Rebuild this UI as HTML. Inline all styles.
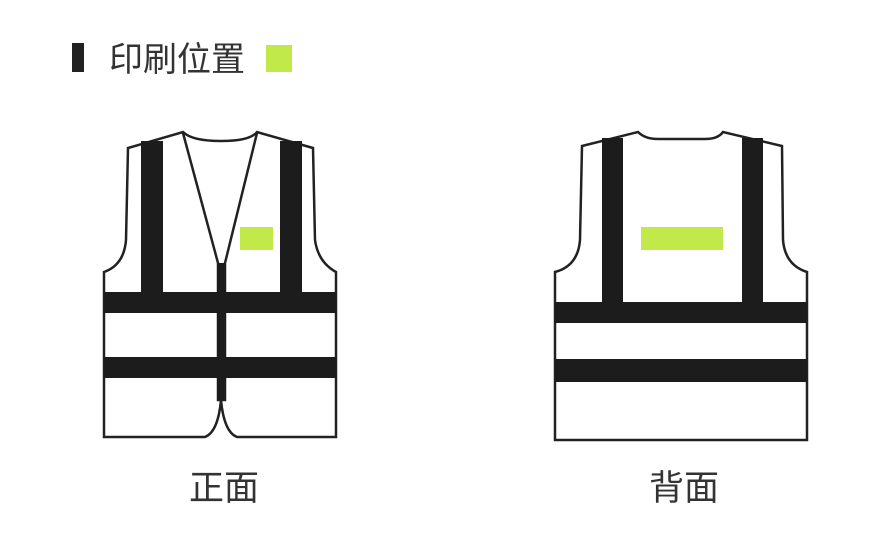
<!DOCTYPE html>
<html><head><meta charset="utf-8"><style>
html,body{margin:0;padding:0;background:#fff;width:891px;height:557px;overflow:hidden}
</style></head><body>
<svg width="891" height="557" viewBox="0 0 891 557" xmlns="http://www.w3.org/2000/svg">
<rect x="72" y="43" width="12" height="29" fill="#222"/>
<text x="109" y="71" font-family="Liberation Sans, Noto Sans CJK SC, sans-serif" font-size="34" fill="#333">印刷位置</text>
<rect x="266" y="45" width="26" height="27" fill="#c1e94a"/>

<!-- Front vest -->
<g stroke="#222" fill="#fff">
<path d="M104,272 L104,437 L205,437 Q218,432 221,400 Q224,432 237,437 L336,437 L336,272 Q318,262 315,240 L313,148 L257,132 Q250,141 221,141 Q192,141 183,132 L128,148 L126,240 Q124,265 104,272 Z" stroke-width="2.5"/>
<path d="M183,133 L218,263 L218,400 L225,400 L225,263 L257,133" stroke-width="2.5" fill="none"/>
</g>
<g fill="#1c1c1c">
<rect x="141" y="141" width="22" height="155"/>
<rect x="280" y="141" width="22" height="155"/>
<rect x="104" y="292" width="232" height="21"/>
<rect x="104" y="357" width="232" height="21"/>
<rect x="217" y="263" width="9" height="137"/>
</g>
<rect x="240" y="227" width="33" height="23" fill="#c1e94a"/>

<!-- Back vest -->
<g stroke="#222" fill="#fff" stroke-width="2.5">
<path d="M555,272 L555,440 L807,440 L807,272 Q785,265 783,240 L782,146 L723,132 Q718,139 705,139 L658,139 Q645,139 638,132 L582,146 L580,240 Q578,266 555,272 Z"/>
</g>
<g fill="#1c1c1c">
<rect x="602" y="138" width="21" height="168"/>
<rect x="742" y="138" width="21" height="168"/>
<rect x="555" y="302" width="252" height="21"/>
<rect x="555" y="359" width="252" height="23"/>
</g>
<rect x="641" y="227" width="82" height="23" fill="#c1e94a"/>

<text x="224" y="500" text-anchor="middle" font-family="Liberation Sans, Noto Sans CJK SC, sans-serif" font-size="35" fill="#333">正面</text>
<text x="684" y="500" text-anchor="middle" font-family="Liberation Sans, Noto Sans CJK SC, sans-serif" font-size="35" fill="#333">背面</text>
</svg>
</body></html>
